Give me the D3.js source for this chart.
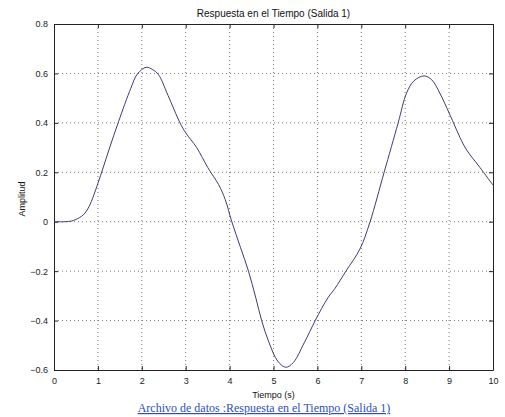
<html>
	<head>
		<meta charset="utf-8">
		<title>Respuesta en el Tiempo</title>
		<script src="https://d3js.org/d3.v7.min.js"></script>
		<style>
			body { margin: 0; background: #fff; }
		</style>
	</head>
	<body>
		<script>

// datos
var tiempo = [0, 0.25, 0.4, 0.5, 0.67, 0.8, 1.0, 1.25, 1.47, 1.75, 1.9, 2.1, 2.25, 2.38, 2.6, 2.87, 3.0, 3.25, 3.5, 3.75, 3.9, 4.05, 4.25, 4.43, 4.6, 4.73, 4.9, 5.1, 5.28, 5.45, 5.7, 5.95, 6.1, 6.25, 6.4, 6.65, 6.97, 7.2, 7.52, 7.84, 8.03, 8.2, 8.43, 8.6, 8.79, 9.0, 9.1, 9.25, 9.4, 9.7, 10];
var amplitud = [0, 0, 0.003, 0.009, 0.028, 0.062, 0.155, 0.29, 0.405, 0.54, 0.598, 0.625, 0.615, 0.595, 0.51, 0.4, 0.36, 0.3, 0.22, 0.15, 0.09, 0, -0.105, -0.2, -0.31, -0.4, -0.49, -0.565, -0.589, -0.57, -0.49, -0.4, -0.35, -0.305, -0.27, -0.2, -0.11, 0, 0.2, 0.4, 0.52, 0.57, 0.59, 0.575, 0.52, 0.44, 0.4, 0.34, 0.29, 0.22, 0.148];
var xTicks = [0, 1, 2, 3, 4, 5, 6, 7, 8, 9, 10];
var yTicks = [-0.6, -0.4, -0.2, 0, 0.2, 0.4, 0.6, 0.8];

var width = 505, height = 417;
var margin = {top: 24, right: 12, bottom: 47, left: 54};
var w = width - margin.left - margin.right;
var h = height - margin.top - margin.bottom;

var svg = d3.select("body").append("svg")
	.attr("width", width)
	.attr("height", height)
	.style("font-family", "'Liberation Sans', Arial, sans-serif");

var g = svg.append("g").attr("transform", "translate(" + margin.left + "," + margin.top + ")");

var x = d3.scaleLinear().domain([0, 10]).range([0, w]);
var y = d3.scaleLinear().domain([-0.6, 0.8]).range([h, 0]);

// rejilla punteada
g.append("g").selectAll("line").data(xTicks.slice(1, -1)).join("line")
	.attr("x1", d => x(d)).attr("x2", d => x(d))
	.attr("y1", 0).attr("y2", h)
	.attr("stroke", "#777").attr("stroke-width", 1)
	.attr("stroke-dasharray", "1,3");
g.append("g").selectAll("line").data(yTicks.slice(1, -1)).join("line")
	.attr("y1", d => y(d)).attr("y2", d => y(d))
	.attr("x1", 0).attr("x2", w)
	.attr("stroke", "#777").attr("stroke-width", 1)
	.attr("stroke-dasharray", "1,3");

// ejes con marcas hacia dentro
var fmt = d => d3.format("")(+d.toFixed(1));
g.append("g").attr("transform", "translate(0," + h + ")")
	.call(d3.axisBottom(x).tickValues(xTicks).tickSizeInner(-4).tickSizeOuter(0).tickPadding(8).tickFormat(fmt));
g.append("g")
	.call(d3.axisTop(x).tickValues(xTicks).tickSizeInner(-4).tickSizeOuter(0).tickFormat(""));
g.append("g")
	.call(d3.axisLeft(y).tickValues(yTicks).tickSizeInner(-4).tickSizeOuter(0).tickPadding(6).tickFormat(fmt));
g.append("g").attr("transform", "translate(" + w + ",0)")
	.call(d3.axisRight(y).tickValues(yTicks).tickSizeInner(-4).tickSizeOuter(0).tickFormat(""));

g.selectAll(".domain").attr("stroke", "#222");
g.selectAll(".tick line").attr("stroke", "#222");
g.selectAll(".tick text").attr("font-size", 9).attr("fill", "#222")
	.style("font-family", "'Liberation Sans', Arial, sans-serif");

// curva
var datos = tiempo.map((t, i) => [t, amplitud[i]]);
g.append("path")
	.datum(datos)
	.attr("fill", "none")
	.attr("stroke", "#3b3b78")
	.attr("stroke-width", 1)
	.attr("d", d3.line().x(d => x(d[0])).y(d => y(d[1])).curve(d3.curveCatmullRom));

// textos
svg.append("text")
	.attr("x", margin.left + w / 2).attr("y", 17)
	.attr("text-anchor", "middle").attr("font-size", 10).attr("fill", "#111")
	.text("Respuesta en el Tiempo (Salida 1)");

svg.append("text")
	.attr("transform", "translate(25," + (margin.top + h / 2 + 2) + ") rotate(-90)")
	.attr("text-anchor", "middle").attr("font-size", 9).attr("fill", "#111")
	.text("Amplitud");

svg.append("text")
	.attr("x", margin.left + w / 2).attr("y", 398)
	.attr("text-anchor", "middle").attr("font-size", 9).attr("fill", "#111")
	.text("Tiempo (s)");

svg.append("text")
	.attr("x", 264).attr("y", 412)
	.attr("text-anchor", "middle").attr("font-size", 12)
	.attr("fill", "#2c50b8")
	.attr("text-decoration", "underline")
	.style("font-family", "'Liberation Serif', 'Times New Roman', serif")
	.text("Archivo de datos :Respuesta en el Tiempo (Salida 1)");

		</script>
	</body>
</html>
